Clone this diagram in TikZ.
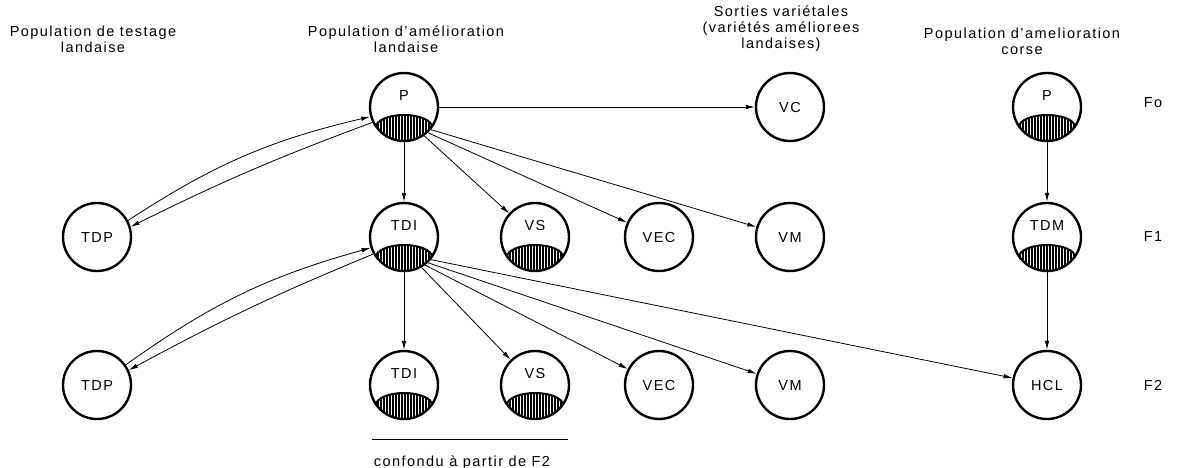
\documentclass[tikz,border=0pt]{standalone}
\usepackage{fontspec}
\setmainfont{Liberation Sans}[LetterSpace=10]
\usetikzlibrary{positioning,arrows.meta,patterns.meta,calc}

\tikzset{
	pop/.style={circle, draw, line width=2.4pt, minimum size=68pt, inner sep=0pt,
		text height=10.5pt, text depth=0pt},
	sel/.style={pop, text depth=23pt},
	flow/.style={-{Latex[length=9pt,width=4.5pt]}, line width=0.8pt},
	head/.style={align=center},
}
% hatched bottom of a population circle
\newcommand\hatchcap[1]{%
	\begin{scope}
		\clip (#1.center) circle[radius=33];
		\fill[pattern={Lines[angle=90,distance=3pt,line width=1.3pt]}]
			([shift={(-28,-20)}]#1.center) arc[start angle=180,end angle=0,x radius=28,y radius=12]
			-- ++(0,-20) -- ++(-56,0) -- cycle;
	\end{scope}
	\draw[line width=2pt] ([shift={(-28,-20)}]#1.center)
		arc[start angle=180,end angle=0,x radius=28,y radius=12];
}

\begin{document}
\begin{tikzpicture}[x=1pt, y=1pt, on grid, font=\fontsize{14.5}{16}\selectfont]
	\useasboundingbox (0,0) rectangle (1177,-467);

	% landes
	\node[sel] (p) at (404,-107) {P};
	\node[sel] (tdi) [below=130 of p] {TDI};
	\node[sel] (tdi2) [below=148 of tdi] {TDI};
	\node[pop] (tdp) [left=307 of tdi] {TDP};
	\node[pop] (tdp2) [left=307 of tdi2] {TDP};

	\node[sel] (vs) [right=131 of tdi] {VS};
	\node[pop] (vec) [right=124 of vs] {VEC};
	\node[pop] (vm) [right=131 of vec] {VM};
	\node[pop] (vc) [above=130 of vm] {VC};

	\node[sel] (vs2) [right=131 of tdi2] {VS};
	\node[pop] (vec2) [right=124 of vs2] {VEC};
	\node[pop] (vm2) [right=131 of vec2] {VM};

	% corse
	\node[sel] (tdm) [right=257 of vm] {TDM};
	\node[sel] (pc) [above=130 of tdm] {P};
	\node[pop] (hcl) [right=257 of vm2] {HCL};

	\node (f0) [right=106 of pc, yshift=4] {Fo};
	\node (f1) [right=106 of tdm] {F1};
	\node (f2) [right=106 of hcl] {F2};

	\foreach \n in {p,tdi,tdi2,vs,vs2,tdm,pc}
		\hatchcap{\n};

	% titles
	\node[head] (h1) at (93,-39) {Population de testage\\landaise};
	\node[head] (h2) at (406,-39) {Population d'amélioration\\landaise};
	\node[head] (h3) at (781,-29) {Sorties variétales\\(variétés améliorees\\landaises)};
	\node[head] (h4) at (1022,-41) {Population d'amelioration\\corse};

	\coordinate (la) at (372,-439);
	\coordinate (lb) at (568,-439);
	\draw[line width=0.8pt] (la) -- (lb);
	\node (conf) [below=13 of $(la)!0.5!(lb)$, xshift=-8] {confondu à partir de F2};

	\draw[flow] (tdp.28) to[bend left=10] (p.196);
	\draw[flow] (p.206) to[bend right=3] (tdp.17);
	\draw[flow] (tdp2.35) to[bend left=10] (tdi.198);
	\draw[flow] (tdi.209) to[bend right=3] (tdp2.25);

	\draw[flow] (p) -- (tdi);
	\draw[flow] (p) -- (vc);
	\draw[flow] (p.-55) -- (vs);
	\draw[flow] (p.-47) -- (vec);
	\draw[flow] (p.-40) -- (vm);

	\draw[flow] (tdi) -- (tdi2);
	\draw[flow] (tdi.-60) -- (vs2);
	\draw[flow] (tdi.-53) -- (vec2);
	\draw[flow] (tdi.-47) -- (vm2);
	\draw[flow] (tdi.-40) -- (hcl);

	\draw[flow] (pc) -- (tdm);
	\draw[flow] (tdm) -- (hcl);
\end{tikzpicture}
\end{document}
